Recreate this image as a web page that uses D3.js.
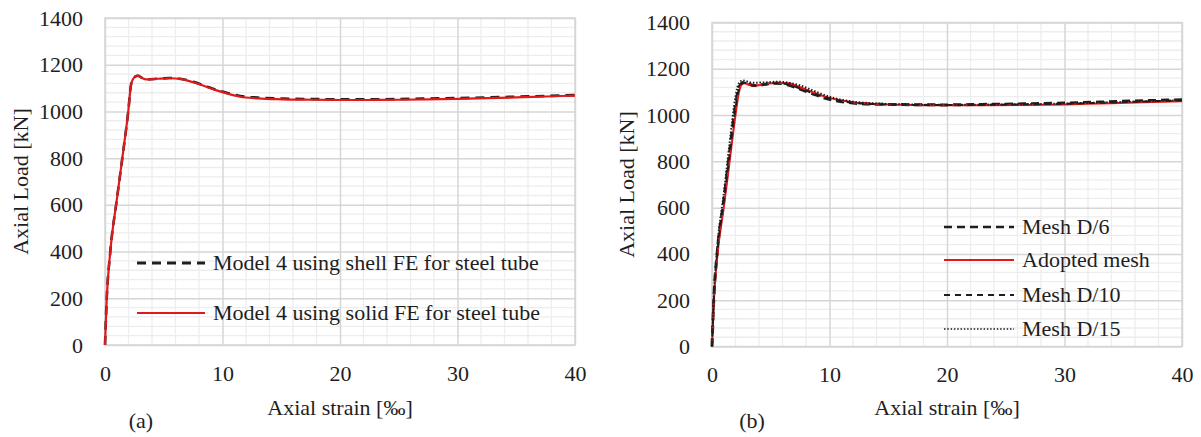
<!DOCTYPE html>
<html>
<head>
<meta charset="utf-8">
<script src="https://cdn.jsdelivr.net/npm/d3@7"></script>
<style>
  html, body { margin: 0; padding: 0; background: #fff; }
  svg { display: block; }
  svg text { font-family: "Liberation Serif", "Times New Roman", Times, serif !important; }
</style>
</head>
<body>
<svg id="fig" width="1201" height="437"></svg>
<script>
// ---- data: panel (a), shell vs solid steel tube ----
const strainA = [0, 0.15, 0.45, 1.0, 1.5, 2.0, 2.2, 2.35, 2.6, 2.8, 3.1, 3.5, 4.5, 5.5, 6.5, 7.5, 8.5, 9.5, 10.5, 11.5, 13, 15, 17.5, 20, 22.5, 25, 27.5, 30, 32.5, 35, 37.5, 40];
const shellLoadA = [0, 200, 400, 620, 810, 1010, 1110, 1135, 1150, 1153, 1145, 1137, 1140, 1143, 1139, 1127, 1110, 1092, 1078, 1066, 1059, 1055, 1053, 1052, 1052, 1053, 1055, 1057, 1060, 1063, 1066, 1070];
const solidLoadA = [0, 200, 400, 620, 810, 1010, 1110, 1135, 1150, 1153, 1145, 1137, 1140, 1142, 1138, 1125, 1108, 1090, 1075, 1063, 1056, 1052, 1050, 1049, 1049, 1050, 1052, 1054, 1057, 1060, 1064, 1068];

// ---- data: panel (b), mesh sensitivity ----
const strainB = [0, 0.15, 0.45, 1.0, 1.5, 2.0, 2.3, 2.6, 2.8, 3.2, 3.6, 4.5, 5.5, 6.5, 7.5, 8.5, 9.5, 10.5, 12, 14, 17, 20, 23, 26, 30, 33, 36, 40];
const meshD6 = [0, 200, 410, 630, 840, 1040, 1120, 1140, 1142, 1133, 1128, 1133, 1138, 1130, 1112, 1093, 1075, 1063, 1052, 1047, 1045, 1044, 1046, 1048, 1052, 1056, 1061, 1066];
const adoptedMesh = [0, 190, 390, 600, 800, 1000, 1100, 1135, 1137, 1130, 1127, 1133, 1140, 1137, 1120, 1100, 1082, 1068, 1055, 1048, 1044, 1042, 1042, 1043, 1046, 1050, 1054, 1060];
const meshD10 = [0, 200, 405, 625, 830, 1030, 1115, 1138, 1140, 1131, 1127, 1132, 1137, 1132, 1115, 1096, 1078, 1065, 1053, 1047, 1044, 1043, 1044, 1046, 1049, 1053, 1058, 1063];
const meshD15 = [0, 210, 430, 660, 880, 1080, 1140, 1150, 1148, 1142, 1140, 1141, 1144, 1140, 1128, 1108, 1088, 1072, 1058, 1050, 1046, 1044, 1045, 1047, 1050, 1054, 1058, 1064];

// ---- axes ----
const xTicks = [0, 10, 20, 30, 40];
const yTicks = [0, 200, 400, 600, 800, 1000, 1200, 1400];
const xMinorStep = 2;
const yMinorStep = 40;
const xTitle = "Axial strain [‰]";
const yTitle = "Axial Load [kN]";

const RED = "#e0191b";
const INK = "#1e1e1e";
const FS = 22;
const svg = d3.select("#fig");

function drawPanel(cfg) {
  const x = d3.scaleLinear().domain([0, 40]).range([cfg.left, cfg.right]);
  const y = d3.scaleLinear().domain([0, 1400]).range([cfg.bottom, cfg.top]);
  const g = svg.append("g");

  // minor grid
  const xMinor = d3.range(0, 40 + 1e-9, xMinorStep).filter(v => v % 10 !== 0);
  const yMinor = d3.range(0, 1400 + 1e-9, yMinorStep).filter(v => v % 200 !== 0);
  g.append("g").selectAll("line").data(xMinor).join("line")
    .attr("x1", d => x(d)).attr("x2", d => x(d))
    .attr("y1", cfg.top).attr("y2", cfg.bottom)
    .attr("stroke", "#ededed").attr("stroke-width", 1.3);
  g.append("g").selectAll("line").data(yMinor).join("line")
    .attr("y1", d => y(d)).attr("y2", d => y(d))
    .attr("x1", cfg.left).attr("x2", cfg.right)
    .attr("stroke", "#ededed").attr("stroke-width", 1.3);

  // major grid via axes
  g.append("g")
    .attr("transform", `translate(0,${cfg.bottom})`)
    .call(d3.axisBottom(x).tickValues(xTicks).tickSize(-(cfg.bottom - cfg.top)).tickFormat(""))
    .call(a => a.select(".domain").remove())
    .call(a => a.selectAll("line").attr("stroke", "#d6d6d6").attr("stroke-width", 1.5));
  g.append("g")
    .attr("transform", `translate(${cfg.left},0)`)
    .call(d3.axisLeft(y).tickValues(yTicks).tickSize(-(cfg.right - cfg.left)).tickFormat(""))
    .call(a => a.select(".domain").remove())
    .call(a => a.selectAll("line").attr("stroke", "#d6d6d6").attr("stroke-width", 1.5));

  // plot frame
  g.append("rect")
    .attr("x", cfg.left).attr("y", cfg.top)
    .attr("width", cfg.right - cfg.left).attr("height", cfg.bottom - cfg.top)
    .attr("fill", "none").attr("stroke", "#d6d6d6").attr("stroke-width", 1.5);

  // tick labels
  g.append("g")
    .attr("transform", `translate(0,${cfg.bottom})`)
    .call(d3.axisBottom(x).tickValues(xTicks).tickFormat(d3.format("d")).tickSize(0).tickPadding(20))
    .call(a => a.select(".domain").remove())
    .call(a => a.selectAll("text").attr("font-size", FS).attr("fill", INK));
  g.append("g")
    .attr("transform", `translate(${cfg.left},0)`)
    .call(d3.axisLeft(y).tickValues(yTicks).tickFormat(d3.format("d")).tickSize(0).tickPadding(cfg.ypad))
    .call(a => a.select(".domain").remove())
    .call(a => a.selectAll("text").attr("font-size", FS).attr("fill", INK));

  // axis titles and panel letter
  g.append("text")
    .attr("x", (cfg.left + cfg.right) / 2).attr("y", 415)
    .attr("text-anchor", "middle").attr("font-size", FS).attr("fill", INK)
    .text(xTitle);
  g.append("text")
    .attr("transform", `translate(${cfg.ytx},${(cfg.top + cfg.bottom) / 2}) rotate(-90)`)
    .attr("text-anchor", "middle").attr("font-size", FS).attr("fill", INK)
    .text(yTitle);
  g.append("text")
    .attr("x", cfg.letterX).attr("y", 428)
    .attr("text-anchor", "middle").attr("font-size", FS).attr("fill", INK)
    .text(cfg.letter);

  // curves
  const clip = "clip-" + cfg.letter.replace(/\W/g, "");
  svg.append("clipPath").attr("id", clip).append("rect")
    .attr("x", cfg.left - 3).attr("y", cfg.top - 3)
    .attr("width", cfg.right - cfg.left + 6).attr("height", cfg.bottom - cfg.top + 6);
  const line = d3.line().x(d => x(d[0])).y(d => y(d[1])).curve(d3.curveMonotoneX);
  cfg.series.forEach(s => {
    g.append("path")
      .datum(s.strain.map((v, i) => [v, s.load[i]]))
      .attr("clip-path", `url(#${clip})`)
      .attr("d", line)
      .attr("fill", "none")
      .attr("stroke", s.color)
      .attr("stroke-width", s.width)
      .attr("stroke-dasharray", s.dash || null)
      .attr("stroke-linejoin", "round");
  });

  // legend
  cfg.series.forEach((s, i) => {
    const ly = cfg.legend.rows[i];
    g.append("line")
      .attr("x1", cfg.legend.x1).attr("x2", cfg.legend.x2)
      .attr("y1", ly).attr("y2", ly)
      .attr("stroke", s.color).attr("stroke-width", s.legendWidth || s.width)
      .attr("stroke-dasharray", s.legendDash || s.dash || null);
    g.append("text")
      .attr("x", cfg.legend.tx).attr("y", ly).attr("dy", "0.33em")
      .attr("font-size", FS).attr("fill", INK)
      .text(s.name);
  });
}

drawPanel({
  letter: "(a)", letterX: 141,
  left: 105, right: 575, top: 18, bottom: 345, ypad: 22, ytx: 28,
  series: [
    { name: "Model 4 using shell FE for steel tube", strain: strainA, load: shellLoadA, color: INK, width: 2.6, dash: "9,6", legendWidth: 3 },
    { name: "Model 4 using solid FE for steel tube", strain: strainA, load: solidLoadA, color: RED, width: 2.2 }
  ],
  legend: { x1: 137, x2: 205, tx: 213, rows: [263, 313] }
});

drawPanel({
  letter: "(b)", letterX: 752,
  left: 712, right: 1182, top: 22.5, bottom: 346.5, ypad: 22, ytx: 634,
  series: [
    { name: "Mesh D/6", strain: strainB, load: meshD6, color: INK, width: 3, dash: "8,5", legendWidth: 2.5 },
    { name: "Adopted mesh", strain: strainB, load: adoptedMesh, color: RED, width: 2 },
    { name: "Mesh D/10", strain: strainB, load: meshD10, color: INK, width: 2, dash: "6,5" },
    { name: "Mesh D/15", strain: strainB, load: meshD15, color: INK, width: 2, dash: "1.5,1.8", legendWidth: 1.3 }
  ],
  legend: { x1: 944, x2: 1014, tx: 1022, rows: [227, 260, 295, 329] }
});
</script>
</body>
</html>
